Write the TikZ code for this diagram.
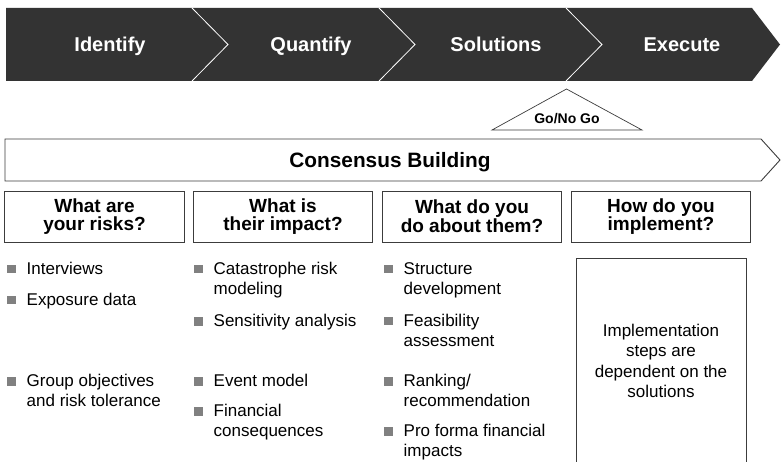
\documentclass[tikz,border=0pt]{standalone}
\usepackage{fontspec}
\setmainfont{Liberation Sans}
\usetikzlibrary{calc}

\definecolor{bandgray}{HTML}{333333}
\definecolor{linegray}{HTML}{3C3C3C}
\definecolor{bulletgray}{HTML}{808080}

\tikzset{
  phase/.style={text=white, anchor=base, inner sep=0pt,
    font=\fontsize{20}{22}\selectfont\bfseries},
  question/.style={draw=linegray, line width=0.9pt, minimum width=179.5pt,
    minimum height=51pt, inner sep=0pt, align=center,
    font=\fontsize{19}{17.5}\selectfont\bfseries},
  itemtext/.style={anchor=north west, align=left, inner sep=0pt,
    font=\fontsize{17}{20}\selectfont},
  outline/.style={draw=linegray, line width=0.9pt},
}

% bullet item: name, x, first baseline y, text
% (a 14pt strut fixes the first line's top, so the first baseline sits at y)
\newcommand\bulletitem[4]{%
  \node[itemtext] (#1) at (#2,#3-14) {\rule{0pt}{14pt}#4};
  \fill[bulletgray] (#2-19.5,#3-0.8) rectangle ++(8.5,-8.5);
}

\begin{document}
\begin{tikzpicture}[x=1pt, y=-1pt]
\useasboundingbox (0,0) rectangle (781,462);

% process chevron band
\fill[bandgray] (6,8) -- (752,8) -- (780,44.5) -- (752,81) -- (6,81) -- cycle;
\foreach \sx in {192,379,566}
  \draw[white, line width=0.8pt] (\sx,8) -- (\sx+36,44.5) -- (\sx,81);
\node[phase] (identify)  at (110,52) {Identify};
\node[phase] (quantify)  at (311,52) {Quantify};
\node[phase] (solutions) at (496,52) {Solutions};
\node[phase] (execute)   at (682,52) {Execute};

% decision gate
\draw[outline, line width=0.7pt, fill=white] (492,130) -- (566.5,89) -- (642,130) -- cycle;
\node[anchor=base, inner sep=0pt, font=\fontsize{14}{16}\selectfont\bfseries]
  (gonogo) at (567,123.5) {Go/No Go};

% consensus arrow
\draw[outline] (5,139) -- (761,139) -- (780,160) -- (761,181) -- (5,181) -- cycle;
\node[anchor=base, inner sep=0pt, font=\fontsize{20.8}{22}\selectfont\bfseries]
  (consensus) at (390,167.5) {Consensus Building};

% question headers
\node[question] (q1) at (94.5,216.5) {What are\\your risks?};
\node[question] (q2) at (283,216.5) {What is\\their impact?};
\node[question] (q3) at (472,216.5) {What do you\\do about them?};
\node[question] (q4) at (661,216.5) {How do you\\implement?};

% column 1
\bulletitem{i1a}{26.5}{274}{Interviews}
\bulletitem{i1b}{26.5}{305}{Exposure data}
\bulletitem{i1c}{26.5}{386.5}{Group objectives\\and risk tolerance}

% column 2
\bulletitem{i2a}{213.5}{274}{Catastrophe risk\\modeling}
\bulletitem{i2b}{213.5}{326.5}{Sensitivity analysis}
\bulletitem{i2c}{213.5}{386.5}{Event model}
\bulletitem{i2d}{213.5}{416.5}{Financial\\consequences}

% column 3
\bulletitem{i3a}{403.5}{274}{Structure\\development}
\bulletitem{i3b}{403.5}{326}{Feasibility\\assessment}
\bulletitem{i3c}{403.5}{386.5}{Ranking/\\recommendation}
\bulletitem{i3d}{403.5}{436.5}{Pro forma financial\\impacts}

% column 4
\draw[outline] (576,470) -- (576,258) -- (746,258) -- (746,470);
\node[align=center, inner sep=0pt, font=\fontsize{17}{20.5}\selectfont]
  (impl) at (661,361) {Implementation\\steps are\\dependent on the\\solutions};
\end{tikzpicture}
\end{document}
